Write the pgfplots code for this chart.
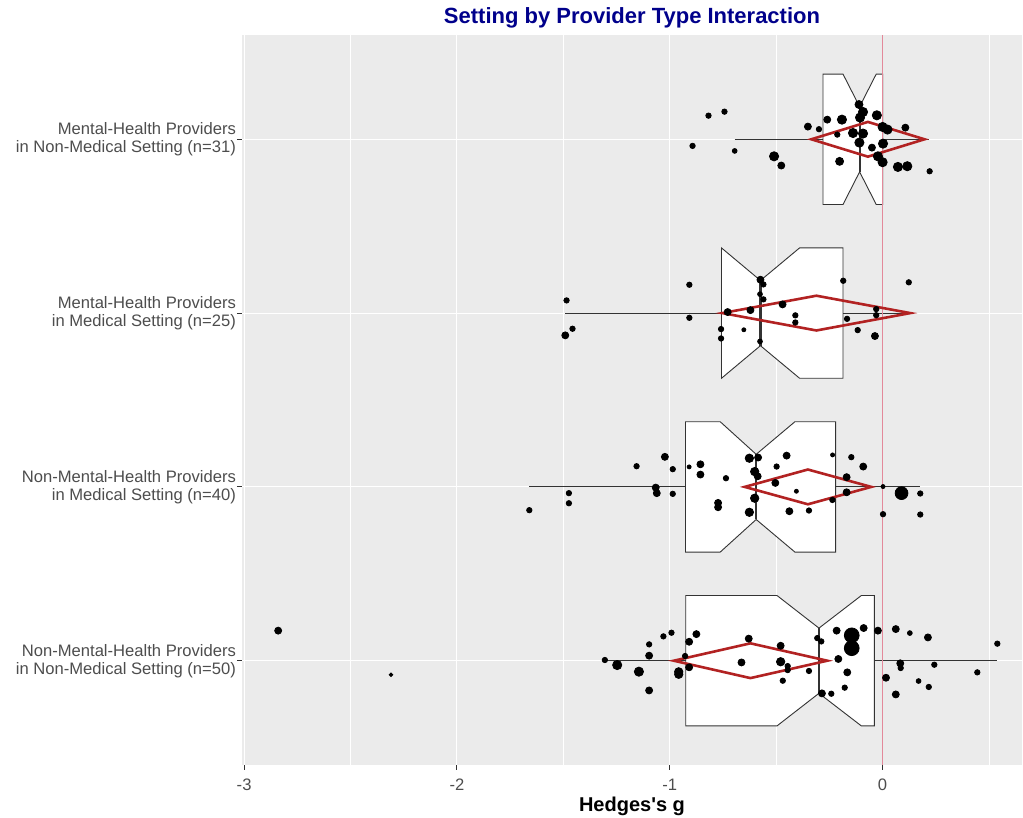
\documentclass[border=0pt]{standalone}
\usepackage{fontspec}
\setmainfont{Liberation Sans}
\usepackage{pgfplots}
\pgfplotsset{compat=1.18}
\usepackage{pgfplotstable}
\definecolor{bg}{HTML}{EBEBEB}
\definecolor{boxc}{HTML}{333333}
\definecolor{txt}{HTML}{4D4D4D}
\definecolor{fire}{HTML}{B22222}
\definecolor{zline}{HTML}{E3899A}
\definecolor{ttl}{RGB}{0,0,139}

% cat 1: Non-MH, Non-Medical (n=50)
\pgfplotstableread{
x y r
-2.840 1.173 1.75
-2.310 0.919 0.9
-1.305 1.004 1.35
-1.247 0.975 2.3
-1.145 0.937 2.3
-1.097 1.094 1.35
-1.097 1.029 1.75
-1.097 0.829 1.75
-1.030 1.140 1.35
-0.992 1.161 1.35
-0.958 0.936 2.1
-0.958 0.922 2.1
-0.928 1.027 1.35
-0.909 1.109 1.75
-0.875 1.153 1.75
-0.909 0.962 1.75
-0.663 0.990 1.75
-0.629 1.127 1.75
-0.479 1.086 1.75
-0.479 0.994 2.1
-0.446 0.969 1.35
-0.446 0.946 1.35
-0.469 0.885 1.35
-0.346 0.941 1.35
-0.307 1.130 1.35
-0.288 1.111 1.35
-0.285 0.812 1.75
-0.241 0.810 1.35
-0.216 1.173 1.75
-0.208 1.010 1.75
-0.166 0.933 1.75
-0.178 0.845 1.35
-0.145 1.146 3.7
-0.145 1.072 3.7
-0.089 1.188 1.75
-0.022 1.173 1.75
0.016 0.902 1.75
0.062 1.182 1.75
0.062 0.806 1.75
0.083 0.985 1.75
0.085 0.958 1.35
0.128 1.159 1.2
0.169 0.883 1.2
0.213 1.134 1.75
0.217 0.849 1.35
0.243 0.977 1.35
0.445 0.933 1.35
0.539 1.098 1.35
}\catA

% cat 2: Non-MH, Medical (n=40)
\pgfplotstableread{
x y r
-1.660 1.866 1.35
-1.474 1.964 1.35
-1.474 1.906 1.35
-1.156 2.119 1.35
-1.023 2.173 1.75
-0.986 2.102 1.35
-1.066 1.996 1.75
-1.061 1.964 1.75
-0.986 1.960 1.35
-0.909 2.115 1.0
-0.856 2.130 1.75
-0.856 2.071 1.75
-0.736 2.050 1.35
-0.773 1.908 1.75
-0.773 1.883 1.75
-0.626 2.165 2.1
-0.585 2.169 1.75
-0.601 2.088 2.1
-0.587 2.061 1.75
-0.601 1.935 2.1
-0.626 1.854 2.1
-0.498 2.117 1.35
-0.451 2.180 1.75
-0.504 2.023 1.75
-0.405 1.975 1.0
-0.438 1.860 1.75
-0.346 1.864 1.35
-0.235 2.184 1.0
-0.236 1.925 1.35
-0.147 2.171 1.35
-0.091 2.117 1.75
-0.169 2.056 1.75
-0.169 1.969 1.75
0.002 2.002 1.0
0.002 1.843 1.35
0.089 1.964 3.2
0.177 1.962 1.35
0.177 1.841 1.35
}\catB

% cat 3: MH, Medical (n=25)
\pgfplotstableread{
x y r
-1.485 3.073 1.35
-1.457 2.910 1.35
-1.491 2.872 1.75
-0.908 3.163 1.35
-0.908 2.973 1.35
-0.728 3.006 1.75
-0.759 2.908 1.35
-0.759 2.854 1.35
-0.652 2.904 1.0
-0.621 3.017 1.75
-0.574 3.192 1.75
-0.560 3.165 1.35
-0.576 3.109 1.2
-0.560 3.079 1.35
-0.576 2.837 1.2
-0.470 3.050 1.75
-0.410 2.987 1.35
-0.410 2.946 1.35
-0.185 3.186 1.35
-0.167 2.967 1.35
-0.117 2.902 1.35
-0.036 2.868 1.75
-0.030 3.023 1.35
-0.030 2.988 1.35
0.123 3.177 1.35
}\catC

% cat 4: MH, Non-Medical (n=31)
\pgfplotstableread{
x y r
-0.893 3.962 1.35
-0.818 4.136 1.35
-0.743 4.159 1.35
-0.695 3.933 1.2
-0.510 3.902 2.3
-0.476 3.849 1.75
-0.351 4.073 1.75
-0.299 4.058 1.35
-0.260 4.113 1.75
-0.191 4.113 2.3
-0.213 4.027 1.35
-0.202 3.873 2.0
-0.111 4.200 2.0
-0.092 4.157 2.3
-0.106 4.125 2.3
-0.139 4.036 2.3
-0.092 4.033 2.3
-0.109 3.981 2.3
-0.050 3.952 1.75
-0.027 4.138 2.3
0.000 4.071 2.3
0.023 4.056 2.3
0.002 3.975 2.3
-0.022 3.902 2.3
0.000 3.868 2.3
0.072 3.841 2.3
0.116 3.845 2.3
0.107 4.067 1.75
0.221 3.816 1.35
}\catD

\begin{document}
\begin{tikzpicture}
\begin{axis}[
  scale only axis, width=390pt, height=365pt,
  xmin=-3.01, xmax=0.655, ymin=0.4, ymax=4.6,
  axis background/.style={fill=bg},
  axis line style={draw=none},
  xtick={-3,-2,-1,0}, xticklabels={{-3},{-2},{-1},{0}},
  minor xtick={-2.5,-1.5,-0.5,0.5},
  ytick={1,2,3,4},
  yticklabels={{Non-Mental-Health Providers\\in Non-Medical Setting (n=50)},
               {Non-Mental-Health Providers\\in Medical Setting (n=40)},
               {Mental-Health Providers\\in Medical Setting (n=25)},
               {Mental-Health Providers\\in Non-Medical Setting (n=31)}},
  xtick pos=bottom, ytick pos=left,
  grid=both,
  major grid style={white, line width=0.55pt},
  minor grid style={white, line width=0.3pt},
  tick align=outside, major tick length=2.5pt, minor tick length=0pt,
  major tick style={boxc, line width=0.5pt},
  ticklabel style={text=txt, font=\fontsize{8.3}{9}\selectfont},
  yticklabel style={align=right, xshift=3pt},
  xticklabel style={yshift=-1pt},
  xlabel={Hedges\textquotesingle s g},
  xlabel style={font=\bfseries\fontsize{10}{12}\selectfont, yshift=4pt},
  title={Setting by Provider Type Interaction},
  title style={font=\bfseries\fontsize{11}{13}\selectfont, text=ttl, yshift=-6pt},
]
% boxes
\addplot[fill=white, draw=boxc, line width=0.45pt] coordinates {(-0.280,4.375)(-0.186,4.375)(-0.108,4.1875)(-0.030,4.375)(0,4.375)(0,3.625)(-0.030,3.625)(-0.108,3.8125)(-0.186,3.625)(-0.280,3.625)} --cycle;
\addplot[fill=white, draw=boxc, line width=0.45pt] coordinates {(-0.757,3.375)(-0.757,3.375)(-0.574,3.1875)(-0.390,3.375)(-0.186,3.375)(-0.186,2.625)(-0.390,2.625)(-0.574,2.8125)(-0.757,2.625)(-0.757,2.625)} --cycle;
\addplot[fill=white, draw=boxc, line width=0.45pt] coordinates {(-0.926,2.375)(-0.763,2.375)(-0.594,2.1875)(-0.412,2.375)(-0.221,2.375)(-0.221,1.625)(-0.412,1.625)(-0.594,1.8125)(-0.763,1.625)(-0.926,1.625)} --cycle;
\addplot[fill=white, draw=boxc, line width=0.45pt] coordinates {(-0.925,1.375)(-0.496,1.375)(-0.299,1.1875)(-0.100,1.375)(-0.039,1.375)(-0.039,0.625)(-0.100,0.625)(-0.299,0.8125)(-0.496,0.625)(-0.925,0.625)} --cycle;
% medians
\addplot[boxc, line width=1.1pt] coordinates {(-0.108,3.8125)(-0.108,4.1875)};
\addplot[boxc, line width=1.1pt] coordinates {(-0.574,2.8125)(-0.574,3.1875)};
\addplot[boxc, line width=1.1pt] coordinates {(-0.594,1.8125)(-0.594,2.1875)};
\addplot[boxc, line width=1.1pt] coordinates {(-0.299,0.8125)(-0.299,1.1875)};
% whiskers
\addplot[boxc, line width=0.45pt] coordinates {(-0.695,4)(-0.280,4)};
\addplot[boxc, line width=0.45pt] coordinates {(0,4)(0.217,4)};
\addplot[boxc, line width=0.45pt] coordinates {(-1.493,3)(-0.757,3)};
\addplot[boxc, line width=0.45pt] coordinates {(-0.186,3)(0.123,3)};
\addplot[boxc, line width=0.45pt] coordinates {(-1.660,2)(-0.926,2)};
\addplot[boxc, line width=0.45pt] coordinates {(-0.221,2)(0.177,2)};
\addplot[boxc, line width=0.45pt] coordinates {(-1.305,1)(-0.925,1)};
\addplot[boxc, line width=0.45pt] coordinates {(-0.039,1)(0.537,1)};
% zero line
\addplot[zline, line width=0.6pt] coordinates {(0,0.4)(0,4.6)};
% diamonds
\addplot[fire, line width=1.3pt] coordinates {(-0.335,4)(-0.069,4.1)(0.197,4)(-0.069,3.9)} --cycle;
\addplot[fire, line width=1.3pt] coordinates {(-0.753,3)(-0.311,3.1)(0.130,3)(-0.311,2.9)} --cycle;
\addplot[fire, line width=1.3pt] coordinates {(-0.648,2)(-0.351,2.1)(-0.053,2)(-0.351,1.9)} --cycle;
\addplot[fire, line width=1.3pt] coordinates {(-0.981,1)(-0.621,1.1)(-0.260,1)(-0.621,0.9)} --cycle;
% points
\pgfplotsset{ptstyle/.style={scatter, only marks, mark=*,
  scatter/use mapped color={draw=black, fill=black},
  visualization depends on={\thisrow{r} \as \rad},
  scatter/@pre marker code/.append style={/tikz/mark size=\rad pt}}}
\addplot[ptstyle] table[x=x, y=y] {\catA};
\addplot[ptstyle] table[x=x, y=y] {\catB};
\addplot[ptstyle] table[x=x, y=y] {\catC};
\addplot[ptstyle] table[x=x, y=y] {\catD};
\end{axis}
\pgfresetboundingbox
\path ([shift={(-121pt,-26.5pt)}]current axis.south west) rectangle ([shift={(0.5pt,17.5pt)}]current axis.north east);
\end{tikzpicture}
\end{document}
